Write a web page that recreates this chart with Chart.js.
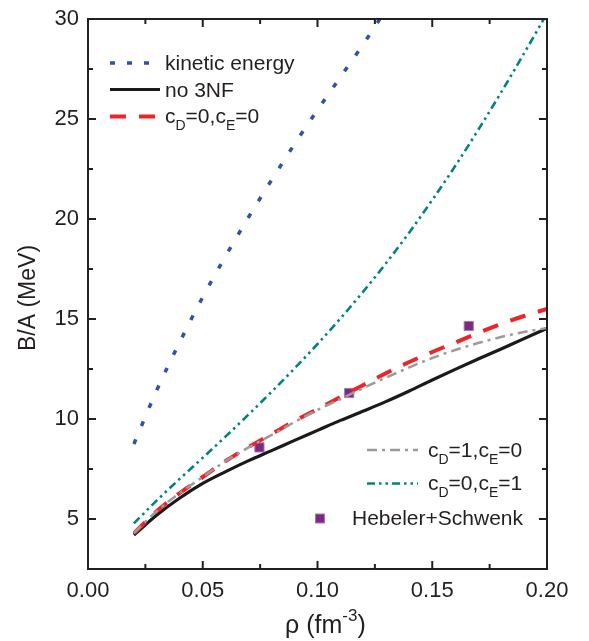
<!DOCTYPE html>
<html><head><meta charset="utf-8">
<script src="https://cdn.jsdelivr.net/npm/chart.js@4"></script>
<style>html,body{margin:0;padding:0;background:#fff;}#wrap{width:589px;height:641px;}</style>
</head><body><div id="wrap"><canvas id="c" width="589" height="641"></canvas></div>
<script>
// ---- data ----
const densities = [0.02,0.03,0.04,0.05,0.06,0.07,0.08,0.09,0.10,0.11,0.12,0.13,0.14,0.15,0.16,0.17,0.18,0.19,0.20];
const kineticRho = [0.02,0.03,0.04,0.05,0.06,0.07,0.08,0.09,0.10,0.11,0.12,0.13];
const kineticEnergy = [8.75,11.45,13.85,16.1,18.15,20.1,21.95,23.75,25.45,27.1,28.75,30.5];
const no3NF  = [4.2,5.2,6.05,6.78,7.37,7.92,8.42,8.93,9.43,9.93,10.4,10.88,11.4,11.95,12.48,13.0,13.5,14.02,14.53];
const cD0cE0 = [4.28,5.4,6.3,7.1,7.9,8.6,9.25,9.9,10.5,11.1,11.7,12.3,12.85,13.35,13.82,14.3,14.75,15.15,15.5];
const cD1cE0 = [4.3,5.4,6.3,7.1,7.9,8.58,9.2,9.85,10.45,11.0,11.55,12.08,12.58,13.05,13.45,13.8,14.1,14.35,14.55];
const cD0cE1 = [4.78,5.93,7.01,8.06,9.13,10.23,11.36,12.53,13.75,15.03,16.38,17.81,19.33,20.95,22.65,24.45,26.33,28.28,30.28];
const hebelerRho = [0.0747,0.1138,0.1659];
const hebelerBA  = [8.58,11.3,14.65];
const xTickValues = [0,0.05,0.10,0.15,0.20];
const xTickLabels = ['0.00','0.05','0.10','0.15','0.20'];
const yTickValues = [5,10,15,20,25,30];
const yTickLabels = ['5','10','15','20','25','30'];

const FONT = '"Liberation Sans", Arial, sans-serif';
const INK = '#231F20';
const COL = {kin:'#3150A8', no:'#1a1a1a', red:'#EE2428', gray:'#9B9B9B', teal:'#00837F', sq:'#7B2A83'};
const STY = {
  kin:{w:3.5,dash:[5,14.5]}, no:{w:3.2,dash:[]}, red:{w:4,dash:[16,13]},
  gray:{w:2.5,dash:[10,5,3,5]}, teal:{w:2.6,dash:[8,4,2.5,4,2.5,4]}
};
const pts = (xs, ys) => xs.map((x,i)=>({x, y: ys[i]}));
function lineDs(label, xs, ys, key){
  return {label, data: pts(xs,ys), borderColor: COL[key], borderWidth: STY[key].w,
    borderDash: STY[key].dash, pointRadius: 0, fill:false, cubicInterpolationMode:'monotone',
    borderCapStyle:'butt'};
}

const framePlugin = {
  id:'frame',
  afterDraw(chart){
    const {ctx, chartArea:a, scales:{x, y}} = chart;
    ctx.save();
    ctx.strokeStyle = INK; ctx.lineWidth = 2; ctx.setLineDash([]);
    ctx.strokeRect(a.left, a.top, a.right-a.left, a.bottom-a.top);
    const xMinor = [0.025,0.075,0.125,0.175];
    const yMinor = [7.5,12.5,17.5,22.5,27.5];
    ctx.beginPath();
    xTickValues.forEach(v=>{ const p=x.getPixelForValue(v); ctx.moveTo(p,a.bottom); ctx.lineTo(p,a.bottom-8); ctx.moveTo(p,a.top); ctx.lineTo(p,a.top+8); });
    xMinor.forEach(v=>{ const p=x.getPixelForValue(v); ctx.moveTo(p,a.bottom); ctx.lineTo(p,a.bottom-5); ctx.moveTo(p,a.top); ctx.lineTo(p,a.top+5); });
    yTickValues.forEach(v=>{ const p=y.getPixelForValue(v); ctx.moveTo(a.left,p); ctx.lineTo(a.left+8,p); ctx.moveTo(a.right,p); ctx.lineTo(a.right-8,p); });
    yMinor.forEach(v=>{ const p=y.getPixelForValue(v); ctx.moveTo(a.left,p); ctx.lineTo(a.left+5,p); ctx.moveTo(a.right,p); ctx.lineTo(a.right-5,p); });
    ctx.stroke();

    // axis titles
    ctx.fillStyle = INK;
    ctx.save();
    ctx.translate(35, (a.top+a.bottom)/2 + 4);
    ctx.rotate(-Math.PI/2);
    ctx.font = '23px '+FONT; ctx.textAlign='center'; ctx.textBaseline='alphabetic';
    ctx.fillText('B/A (MeV)', 0, 0);
    ctx.restore();
    rich(ctx, [{t:'ρ (fm'},{t:'-3',sup:true},{t:')'}], 285, 633, 25);

    // legends
    function sample(key, x0, x1, yy){
      ctx.save(); ctx.strokeStyle = COL[key]; ctx.lineWidth = STY[key].w;
      let d = STY[key].dash; if (key==='kin') d=[5,12];
      ctx.setLineDash(d); ctx.beginPath(); ctx.moveTo(x0,yy); ctx.lineTo(x1,yy); ctx.stroke(); ctx.restore();
    }
    const FS = 21;
    sample('kin',110,160,63); rich(ctx,[{t:'kinetic energy'}],165,69.5,FS);
    sample('no',110,160,89.5); rich(ctx,[{t:'no 3NF'}],165,96.5,FS);
    sample('red',110,160,116.5); rich(ctx,[{t:'c'},{t:'D',sub:true},{t:'=0,c'},{t:'E',sub:true},{t:'=0'}],165,123,FS);
    sample('gray',367,418,450); rich(ctx,[{t:'c'},{t:'D',sub:true},{t:'=1,c'},{t:'E',sub:true},{t:'=0'}],428,457,FS);
    sample('teal',367,418,483.5); rich(ctx,[{t:'c'},{t:'D',sub:true},{t:'=0,c'},{t:'E',sub:true},{t:'=1'}],428,490,FS);
    ctx.fillStyle = COL.sq; ctx.strokeStyle='#A77AAD'; ctx.lineWidth=1; ctx.setLineDash([]);
    ctx.fillRect(315.5,514,9,9); ctx.strokeRect(315.5,514,9,9);
    rich(ctx,[{t:'Hebeler+Schwenk'}],352,525,FS);
    ctx.restore();
  }
};
function rich(ctx, parts, x, y, size){
  ctx.fillStyle = INK; ctx.textAlign='left'; ctx.textBaseline='alphabetic';
  for (const p of parts){
    const fs = (p.sub||p.sup) ? Math.round(size*0.68) : size;
    ctx.font = fs+'px '+FONT;
    const dy = p.sub ? size*0.33 : (p.sup ? -size*0.5 : 0);
    ctx.fillText(p.t, x, y+dy);
    x += ctx.measureText(p.t).width;
  }
}

new Chart(document.getElementById('c').getContext('2d'), {
  type:'line',
  data:{ datasets:[
    lineDs('kinetic energy', kineticRho, kineticEnergy, 'kin'),
    lineDs('c_D=0,c_E=1', densities, cD0cE1, 'teal'),
    lineDs('c_D=1,c_E=0', densities, cD1cE0, 'gray'),
    lineDs('c_D=0,c_E=0', densities, cD0cE0, 'red'),
    lineDs('no 3NF', densities, no3NF, 'no'),
    {label:'Hebeler+Schwenk', data: pts(hebelerRho, hebelerBA), showLine:false, pointStyle:'rect',
     pointRadius:6.5, backgroundColor: COL.sq, borderColor:'#A77AAD', borderWidth:1}
  ]},
  options:{
    responsive:false, animation:false, devicePixelRatio:1,
    layout:{padding:{left:0, top:19, right:42, bottom:0}},
    plugins:{legend:{display:false}, tooltip:{enabled:false}},
    scales:{
      x:{type:'linear', min:0, max:0.2, grid:{display:false}, border:{display:false},
         afterBuildTicks: s => { s.ticks = xTickValues.map(v=>({value:v})); },
         afterFit: s => { s.height = 72; },
         ticks:{callback:(v,i)=>xTickLabels[i], font:{family:FONT, size:22}, color:INK, padding:1, maxRotation:0, autoSkip:false}},
      y:{type:'linear', min:2.5, max:30, grid:{display:false}, border:{display:false},
         afterBuildTicks: s => { s.ticks = yTickValues.map(v=>({value:v})); },
         afterFit: s => { s.width = 88; },
         ticks:{callback:(v,i)=>yTickLabels[i], font:{family:FONT, size:22}, color:INK, padding:1, autoSkip:false}}
    }
  },
  plugins:[framePlugin]
});
</script></body></html>
